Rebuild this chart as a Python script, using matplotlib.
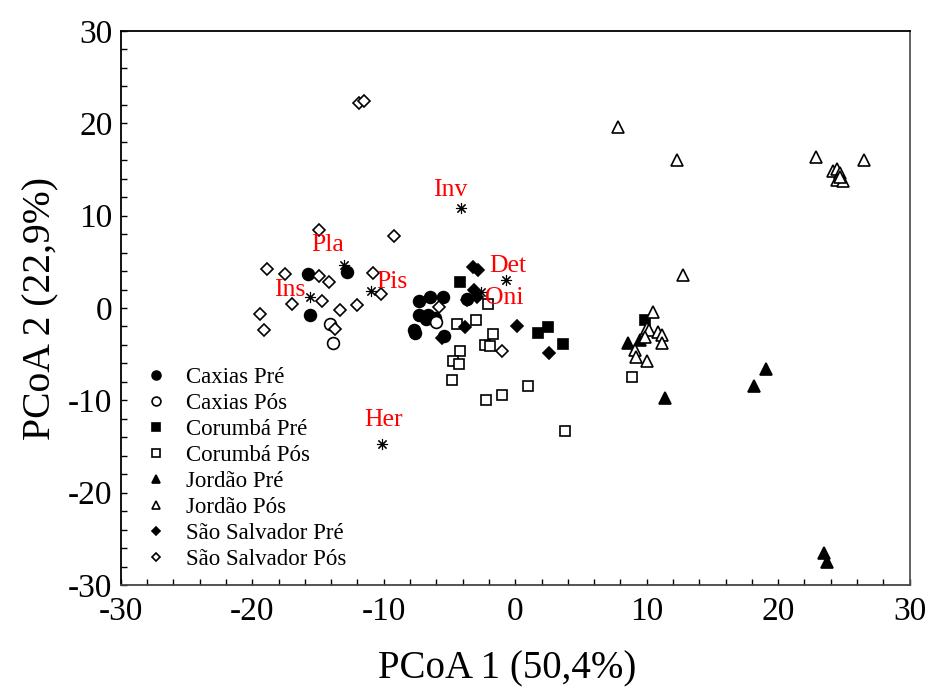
import numpy as np
import matplotlib
matplotlib.use('Agg')
import matplotlib.pyplot as plt

plt.rcParams['font.family'] = ['Liberation Serif', 'DejaVu Serif']
plt.rcParams['axes.unicode_minus'] = False

# scores
caxias_pre_x = [-15.8, -15.6, -12.8, -7.3, -6.5, -5.5, -7.3, -6.6, -6.1, -6.8, -7.7, -7.6, -5.4, -3.7]
caxias_pre_y = [3.7, -0.8, 3.9, 0.8, 1.2, 1.2, -0.8, -0.8, -1.1, -1.2, -2.4, -2.7, -3.0, 1.0]
caxias_pos_x = [-14.1, -13.9, -6.0]
caxias_pos_y = [-1.7, -3.8, -1.5]
corumba_pre_x = [-4.2, 1.7, 2.5, 3.6, 9.9]
corumba_pre_y = [2.8, -2.7, -2.1, -3.9, -1.3]
corumba_pos_x = [-2.1, -4.4, -3.0, -1.7, -2.3, -1.9, -4.2, -4.7, -4.3, -4.8, 1.0, -1.0, -2.2, 3.8, 8.9]
corumba_pos_y = [0.4, -1.7, -1.3, -2.8, -4.0, -4.1, -4.7, -5.7, -6.1, -7.8, -8.5, -9.4, -10.0, -13.3, -7.5]
jordao_pre_x = [8.6, 9.5, 11.4, 19.1, 18.2, 23.5, 23.7]
jordao_pre_y = [-3.8, -3.5, -9.7, -6.6, -8.4, -26.5, -27.5]
jordao_pos_x = [7.8, 12.3, 22.9, 26.5, 24.2, 24.5, 24.7, 24.5, 24.9, 24.7, 12.8,
                10.5, 10.0, 10.2, 10.9, 11.2, 9.9, 11.2, 9.1, 9.2, 10.0]
jordao_pos_y = [19.6, 16.0, 16.4, 16.0, 14.8, 15.1, 14.6, 13.9, 13.8, 14.2, 3.6,
                -0.4, -2.2, -2.4, -2.6, -2.9, -3.1, -3.8, -4.5, -5.3, -5.7]
saosalv_pre_x = [-3.2, -2.8, -3.1, -3.7, -2.9, -3.8, 0.1, 2.6, -5.6]
saosalv_pre_y = [4.4, 4.1, 2.0, 0.9, 1.2, -2.1, -2.0, -4.9, -3.2]
saosalv_pos_x = [-11.9, -11.5, -14.9, -9.2, -18.9, -17.5, -14.9, -14.2, -10.8, -10.2,
                 -17.0, -14.7, -19.4, -19.1, -13.3, -12.0, -13.7, -5.8, -1.0]
saosalv_pos_y = [22.2, 22.4, 8.4, 7.8, 4.2, 3.7, 3.5, 2.8, 3.8, 1.5,
                 0.4, 0.8, -0.7, -2.4, -0.2, 0.3, -2.3, 0.1, -4.7]

vars_names = ['Inv', 'Pla', 'Ins', 'Pis', 'Det', 'Oni', 'Her']
vars_x = [-4.1, -13.0, -15.6, -11.0, -0.7, -2.6, -10.1]
vars_y = [10.8, 4.7, 1.2, 1.8, 3.0, 1.7, -14.7]

groups = [
    ('Caxias Pré', caxias_pre_x, caxias_pre_y, 'o', True),
    ('Caxias Pós', caxias_pos_x, caxias_pos_y, 'o', False),
    ('Corumbá Pré', corumba_pre_x, corumba_pre_y, 's', True),
    ('Corumbá Pós', corumba_pos_x, corumba_pos_y, 's', False),
    ('Jordão Pré', jordao_pre_x, jordao_pre_y, '^', True),
    ('Jordão Pós', jordao_pos_x, jordao_pos_y, '^', False),
    ('São Salvador Pré', saosalv_pre_x, saosalv_pre_y, 'D', True),
    ('São Salvador Pós', saosalv_pos_x, saosalv_pos_y, 'D', False),
]
sizes = {'o': 8.5, 's': 7.5, '^': 8, 'D': 6}
# label offsets (points) from each asterisk
label_off = [(-8, 13), (-12, 14), (-15, 5), (15, 7), (1, 10), (17, -4), (1, 17)]

fig = plt.figure(figsize=(9.3, 6.91), dpi=100)
ax = fig.add_axes([0.130, 0.1534, 0.848, 0.8017])

for name, gx, gy, mk, filled in groups:
    ax.plot(gx, gy, linestyle='none', marker=mk, markersize=sizes[mk],
            markerfacecolor='black' if filled else 'white',
            markeredgecolor='black', markeredgewidth=1.2, label=name)

ax.plot(vars_x, vars_y, linestyle='none', marker=(8, 2, 0), markersize=8,
        markeredgecolor='black', markeredgewidth=0.8)
for nm, vx, vy, off in zip(vars_names, vars_x, vars_y, label_off):
    ax.annotate(nm, (vx, vy), xytext=off, textcoords='offset points',
                ha='center', va='center', color='red', fontsize=18.5)

ax.set_xlim(-30, 30)
ax.set_ylim(-30, 30)
ax.set_xticks(np.arange(-30, 31, 10))
ax.set_yticks(np.arange(-30, 31, 10))
ax.set_xticks(np.arange(-30, 31, 2), minor=True)
ax.set_yticks(np.arange(-30, 31, 2), minor=True)
ax.tick_params(which='both', direction='in', length=4, width=1, top=False, right=False)
ax.tick_params(axis='x', which='major', labelsize=24, pad=8)
ax.tick_params(axis='y', which='major', labelsize=24, pad=6)
for s in ax.spines.values():
    s.set_linewidth(1.3)
ax.spines['right'].set_color('#555555')
ax.spines['bottom'].set_color('#444444')

ax.set_xlabel('PCoA 1 (50,4%)', fontsize=28)
ax.set_ylabel('PCoA 2 (22,9%)', fontsize=28.5, labelpad=6)
ax.xaxis.set_label_coords(0.49, -0.118)

ax.legend(loc='upper left', bbox_to_anchor=(0.016, 0.415), frameon=False, fontsize=16.5,
          handlelength=1.0, handletextpad=0.8, labelspacing=0.22, markerscale=0.75,
          borderpad=0)

fig.savefig('out.png', dpi=100)
